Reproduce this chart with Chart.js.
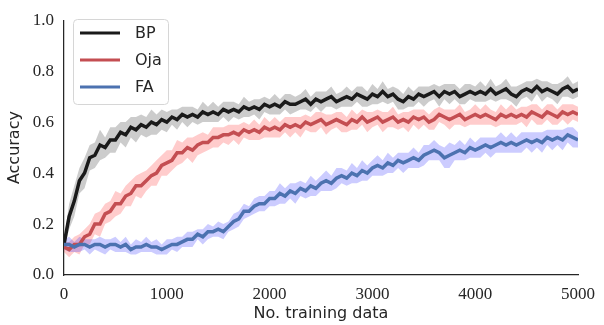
<!DOCTYPE html>
<html>
<head>
<meta charset="utf-8">
<script src="https://cdn.jsdelivr.net/npm/chart.js@4"></script>
<style>
  html, body { margin: 0; padding: 0; background: #fff; }
  #wrap { width: 604px; height: 325px; }
</style>
</head>
<body>
<div id="wrap"><canvas id="chart"></canvas></div>
<script>
// x positions: 0, 50, ..., 5000 training samples
const steps = [];
for (let i = 0; i <= 100; i++) steps.push(i * 50);

const seriesNames = ['BP', 'Oja', 'FA'];
const xTicks = [0, 1000, 2000, 3000, 4000, 5000];
const yTicks = [0.0, 0.2, 0.4, 0.6, 0.8, 1.0];

const bpMean = [
  0.12, 0.23, 0.29, 0.37, 0.40, 0.46, 0.47, 0.51, 0.50, 0.53, 0.53, 0.56, 0.55, 0.58, 0.57, 0.59, 0.58, 0.60, 0.59, 0.61, 0.60,
  0.62, 0.61, 0.63, 0.62, 0.63, 0.62, 0.64, 0.63, 0.64, 0.63, 0.65, 0.64, 0.65, 0.64, 0.66, 0.65, 0.66, 0.65, 0.67, 0.66,
  0.67, 0.66, 0.68, 0.67, 0.67, 0.68, 0.69, 0.67, 0.69, 0.68, 0.69, 0.70, 0.68, 0.69, 0.70, 0.69, 0.71, 0.70, 0.69, 0.71,
  0.70, 0.72, 0.70, 0.71, 0.69, 0.68, 0.70, 0.69, 0.71, 0.70, 0.71, 0.72, 0.70, 0.72, 0.71, 0.72, 0.70, 0.71, 0.72, 0.71,
  0.72, 0.71, 0.73, 0.71, 0.72, 0.73, 0.71, 0.70, 0.72, 0.73, 0.72, 0.74, 0.72, 0.73, 0.72, 0.71, 0.73, 0.74, 0.72, 0.73
];
const bpSpread = [
  0.02, 0.05, 0.06, 0.05, 0.06, 0.05, 0.05, 0.06, 0.04, 0.05, 0.05, 0.04, 0.05, 0.04, 0.05, 0.04, 0.04, 0.05, 0.04, 0.04, 0.04,
  0.03, 0.04, 0.03, 0.04, 0.03, 0.03, 0.04, 0.03, 0.04, 0.03, 0.03, 0.04, 0.03, 0.03, 0.04, 0.03, 0.03, 0.04, 0.03, 0.03,
  0.04, 0.03, 0.03, 0.04, 0.03, 0.03, 0.04, 0.03, 0.03, 0.04, 0.03, 0.04, 0.03, 0.03, 0.04, 0.03, 0.03, 0.04, 0.03, 0.04,
  0.03, 0.04, 0.03, 0.03, 0.04, 0.03, 0.04, 0.03, 0.03, 0.04, 0.03, 0.03, 0.04, 0.03, 0.04, 0.03, 0.03, 0.04, 0.03, 0.03,
  0.04, 0.03, 0.04, 0.03, 0.03, 0.04, 0.03, 0.04, 0.03, 0.03, 0.04, 0.03, 0.04, 0.03, 0.03, 0.04, 0.03, 0.04, 0.03, 0.03
];

const ojaMean = [
  0.11, 0.10, 0.12, 0.12, 0.15, 0.16, 0.20, 0.20, 0.24, 0.25, 0.28, 0.28, 0.31, 0.32, 0.35, 0.35, 0.37, 0.39, 0.40, 0.43, 0.44,
  0.45, 0.48, 0.48, 0.50, 0.49, 0.51, 0.52, 0.52, 0.54, 0.54, 0.55, 0.55, 0.56, 0.55, 0.57, 0.56, 0.57, 0.56, 0.58, 0.57,
  0.58, 0.57, 0.59, 0.58, 0.59, 0.58, 0.60, 0.59, 0.60, 0.61, 0.59, 0.60, 0.61, 0.60, 0.59, 0.61, 0.60, 0.62, 0.60, 0.61,
  0.62, 0.60, 0.61, 0.62, 0.60, 0.61, 0.60, 0.62, 0.61, 0.62, 0.60, 0.61, 0.63, 0.62, 0.61, 0.62, 0.63, 0.61, 0.62, 0.63,
  0.62, 0.63, 0.62, 0.61, 0.63, 0.62, 0.63, 0.62, 0.63, 0.62, 0.64, 0.63, 0.62, 0.64, 0.63, 0.62, 0.64, 0.63, 0.64, 0.63
];
const ojaSpread = [
  0.02, 0.03, 0.03, 0.04, 0.03, 0.04, 0.04, 0.05, 0.04, 0.04, 0.05, 0.04, 0.04, 0.05, 0.04, 0.05, 0.04, 0.04, 0.05, 0.04, 0.05,
  0.04, 0.05, 0.04, 0.04, 0.05, 0.04, 0.04, 0.03, 0.04, 0.04, 0.03, 0.04, 0.03, 0.04, 0.03, 0.03, 0.04, 0.03, 0.04, 0.03,
  0.04, 0.03, 0.03, 0.04, 0.03, 0.04, 0.03, 0.03, 0.04, 0.03, 0.04, 0.03, 0.03, 0.04, 0.03, 0.04, 0.03, 0.03, 0.04, 0.03,
  0.03, 0.04, 0.03, 0.04, 0.03, 0.03, 0.04, 0.03, 0.04, 0.03, 0.03, 0.04, 0.03, 0.03, 0.04, 0.03, 0.04, 0.03, 0.03, 0.04,
  0.03, 0.04, 0.03, 0.03, 0.04, 0.03, 0.04, 0.03, 0.03, 0.04, 0.03, 0.04, 0.03, 0.03, 0.04, 0.03, 0.03, 0.04, 0.03, 0.03
];

const faMean = [
  0.12, 0.12, 0.11, 0.12, 0.12, 0.11, 0.12, 0.12, 0.11, 0.12, 0.12, 0.11, 0.12, 0.10, 0.11, 0.11, 0.12, 0.11, 0.11, 0.10, 0.11,
  0.12, 0.12, 0.13, 0.14, 0.14, 0.16, 0.15, 0.17, 0.17, 0.18, 0.17, 0.19, 0.21, 0.22, 0.25, 0.25, 0.27, 0.28, 0.28, 0.30,
  0.30, 0.32, 0.31, 0.33, 0.32, 0.34, 0.33, 0.35, 0.34, 0.36, 0.37, 0.36, 0.38, 0.39, 0.38, 0.40, 0.39, 0.41, 0.40, 0.42,
  0.43, 0.42, 0.44, 0.43, 0.45, 0.44, 0.45, 0.46, 0.45, 0.47, 0.48, 0.49, 0.48, 0.46, 0.47, 0.48, 0.49, 0.48, 0.50, 0.49,
  0.50, 0.51, 0.50, 0.51, 0.52, 0.51, 0.52, 0.51, 0.52, 0.53, 0.52, 0.53, 0.52, 0.54, 0.53, 0.54, 0.53, 0.55, 0.54, 0.53
];
const faSpread = [
  0.02, 0.03, 0.02, 0.03, 0.02, 0.03, 0.02, 0.03, 0.03, 0.02, 0.03, 0.02, 0.03, 0.02, 0.03, 0.02, 0.03, 0.02, 0.03, 0.02, 0.03,
  0.02, 0.03, 0.02, 0.03, 0.03, 0.02, 0.03, 0.03, 0.02, 0.03, 0.03, 0.02, 0.03, 0.03, 0.03, 0.02, 0.03, 0.03, 0.03, 0.03,
  0.03, 0.04, 0.03, 0.03, 0.04, 0.03, 0.03, 0.04, 0.03, 0.03, 0.04, 0.03, 0.04, 0.03, 0.03, 0.04, 0.03, 0.04, 0.03, 0.03,
  0.04, 0.03, 0.04, 0.03, 0.03, 0.04, 0.03, 0.04, 0.03, 0.04, 0.03, 0.04, 0.03, 0.04, 0.05, 0.03, 0.04, 0.03, 0.04, 0.03,
  0.04, 0.03, 0.04, 0.03, 0.04, 0.03, 0.04, 0.03, 0.04, 0.03, 0.04, 0.03, 0.04, 0.03, 0.04, 0.03, 0.04, 0.03, 0.04, 0.03
];

const lineColors = ['#1a1a1a', '#c44e52', '#4c72b0'];
const bandColors = ['rgba(0,0,0,0.2)', 'rgba(255,0,0,0.2)', 'rgba(0,0,255,0.2)'];

function pts(arr, spread, sign) {
  return arr.map((v, i) => ({ x: steps[i], y: v + sign * (spread ? spread[i] : 0) }));
}

const means = [bpMean, ojaMean, faMean];
const spreads = [bpSpread, ojaSpread, faSpread];
const datasets = [];
for (let s = 0; s < 3; s++) {
  datasets.push({
    label: '_upper' + s,
    data: pts(means[s], spreads[s], 1),
    borderWidth: 0,
    pointRadius: 0,
    fill: false,
    order: 10 - s,
  });
  datasets.push({
    label: '_lower' + s,
    data: pts(means[s], spreads[s], -1),
    borderWidth: 0,
    pointRadius: 0,
    backgroundColor: bandColors[s],
    fill: '-1',
    order: 10 - s,
  });
}
for (let s = 0; s < 3; s++) {
  datasets.push({
    label: seriesNames[s],
    data: pts(means[s], null, 0),
    borderColor: lineColors[s],
    borderWidth: 3.5,
    pointRadius: 0,
    fill: false,
    order: 3 - s,
  });
}

// legend box drawn in the upper-left of the plot
const boxLegend = {
  id: 'boxLegend',
  afterDraw(chart) {
    const c = chart.ctx;
    c.save();
    c.beginPath();
    c.roundRect(73.5, 19.5, 95, 85, 4);
    c.fillStyle = 'rgba(255,255,255,0.85)';
    c.fill();
    c.strokeStyle = '#d6d6d6';
    c.lineWidth = 1;
    c.stroke();
    const ys = [33, 60, 87];
    c.font = '16px "DejaVu Sans"';
    c.textBaseline = 'middle';
    for (let s = 0; s < 3; s++) {
      c.beginPath();
      c.moveTo(80, ys[s]);
      c.lineTo(120, ys[s]);
      c.strokeStyle = lineColors[s];
      c.lineWidth = 3;
      c.stroke();
      c.fillStyle = '#262626';
      c.fillText(seriesNames[s], 135, ys[s] + 1);
    }
    c.restore();
  }
};

new Chart(document.getElementById('chart'), {
  type: 'line',
  data: { datasets },
  plugins: [boxLegend],
  options: {
    responsive: true,
    maintainAspectRatio: false,
    animation: false,
    layout: { padding: { left: 0, right: 21, top: 12, bottom: 0 } },
    plugins: { legend: { display: false }, tooltip: { enabled: false } },
    elements: { line: { tension: 0 } },
    scales: {
      x: {
        type: 'linear',
        min: 0,
        max: 5000,
        afterFit(scale) { scale.height = 50; },
        afterBuildTicks(scale) { scale.ticks = xTicks.map(v => ({ value: v })); },
        grid: { display: false, drawTicks: false },
        border: { display: true, color: '#262626', width: 1.25 },
        ticks: {
          padding: 9,
          color: '#262626',
          font: { family: '"Liberation Serif"', size: 17 },
          maxRotation: 0,
          callback: v => String(v),
        },
        title: {
          display: true,
          text: 'No. training data',
          color: '#262626',
          font: { family: '"DejaVu Sans"', size: 16 },
          padding: { top: 0, bottom: 2 },
        },
      },
      y: {
        min: 0,
        max: 1,
        afterFit(scale) { scale.width = 64; },
        afterBuildTicks(scale) { scale.ticks = yTicks.map(v => ({ value: v })); },
        grid: { display: false, drawTicks: false },
        border: { display: true, color: '#262626', width: 1.25 },
        ticks: {
          padding: 10,
          color: '#262626',
          font: { family: '"Liberation Serif"', size: 17 },
          callback: v => v.toFixed(1),
        },
        title: {
          display: true,
          text: 'Accuracy',
          color: '#262626',
          font: { family: '"DejaVu Sans"', size: 16 },
          padding: { top: 5, bottom: 0 },
        },
      },
    },
  },
});
</script>
</body>
</html>
